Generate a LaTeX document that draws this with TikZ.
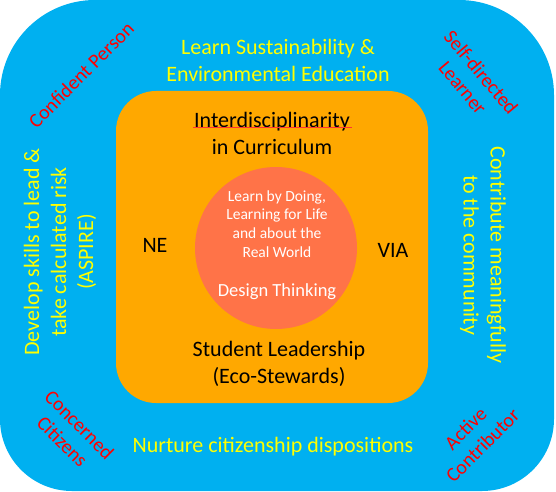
\documentclass[tikz,border=0pt]{standalone}
\usepackage{fontspec}
\setmainfont{Carlito}
\definecolor{skyblue}{RGB}{0,176,240}
\definecolor{amber}{RGB}{255,168,0}
\definecolor{coral}{RGB}{255,115,72}
\definecolor{sunyellow}{RGB}{255,255,0}
\begin{document}
\begin{tikzpicture}[x=1pt, y=1pt,
    goal/.style={text=sunyellow, align=center, font=\fontsize{22}{27}\selectfont},
    trait/.style={text=red, align=center, font=\fontsize{20}{24}\selectfont},
    core/.style={text=black, align=center, font=\fontsize{22}{27}\selectfont},
    heart/.style={text=white, align=center, font=\fontsize{15.5}{18.7}\selectfont}]
	\useasboundingbox (0,0) rectangle (556,491);
	% --- 外层：蓝色圆角框 ---
	\fill[skyblue] (0,72) -- (0,396) arc[start angle=180, end angle=90, radius=95]
		-- (459,491) arc[start angle=90, end angle=0, radius=95]
		-- (554,72) arc[start angle=0, end angle=-90, radius=72]
		-- (72,0) arc[start angle=270, end angle=180, radius=72] -- cycle;
	\node[goal] (sustain) at (278,431) {Learn Sustainability \&\\Environmental Education};
	\node[goal] (nurture) at (273,44) {Nurture citizenship dispositions};
	\node[goal, rotate=90] (lead) at (60,239) {Develop skills to lead \&\\take calculated risk\\(ASPIRE)};
	\node[goal, rotate=-90] (contribute) at (483,236) {Contribute meaningfully\\to the community};
	% 四角：期望成果
	\node[trait, rotate=45] (confident) at (81,416) {Confident Person};
	\node[trait, rotate=-50] (selfdir) at (472,411) {Self-directed\\Learner};
	\node[trait, rotate=-45] (concerned) at (71,58) {Concerned\\Citizens};
	\node[trait, rotate=45] (active) at (474,54) {Active\\Contributor};
	% --- 中层：橙色圆角方块 ---
	\fill[amber, rounded corners=40] (116,88) rectangle (428,400);
	\node[core] (interdisc) at (272,358) {Interdisciplinarity\\in Curriculum};
	\draw[red!80, line width=0.6pt] (193,364) -- (352,364);
	\node[core] (ne) at (155,246) {NE};
	\node[core] (via) at (393,241) {VIA};
	\node[core] (student) at (279,127) {Student Leadership\\(Eco-Stewards)};
	% --- 内层：圆 ---
	\fill[coral] (276,243) circle[radius=81];
	\node[heart] (doing) at (277,267) {Learn by Doing,\\Learning for Life\\and about the\\Real World};
	\node[heart, font=\fontsize{18.5}{22}\selectfont] (design) at (277,199) {Design Thinking};
\end{tikzpicture}
\end{document}
